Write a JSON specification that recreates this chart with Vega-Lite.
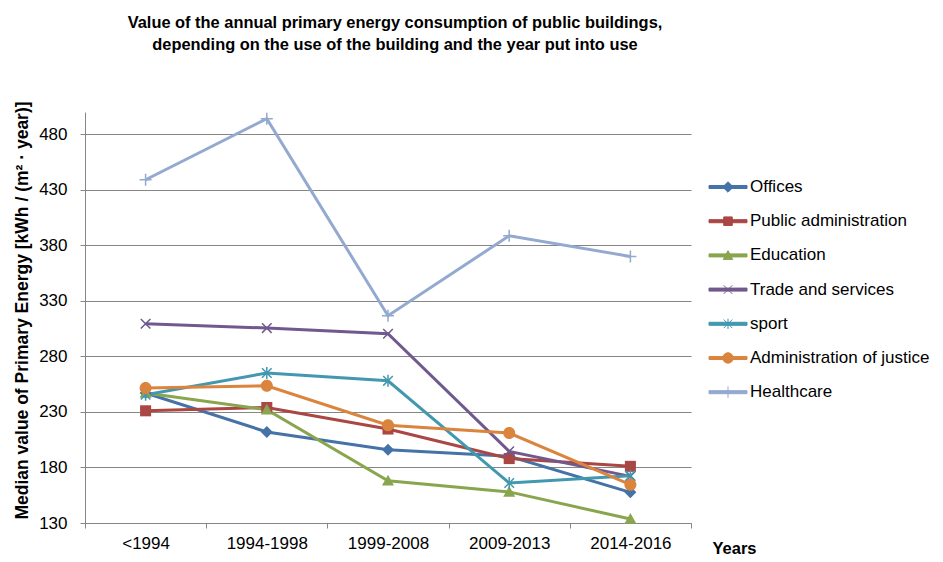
{
  "$schema": "https://vega.github.io/schema/vega-lite/v6.json",
  "width": 606,
  "height": 411,
  "autosize": {"type": "none"},
  "padding": {"left": 85, "top": 112, "right": 252, "bottom": 39},
  "background": "white",
  "title": {
    "text": ["Value of the annual primary energy consumption of public buildings,", "depending on the use of the building and the year put into use"],
    "fontSize": 16.4,
    "fontWeight": "bold",
    "font": "Liberation Sans",
    "color": "black",
    "anchor": "middle",
    "frame": "group",
    "dx": 7,
    "offset": 48,
    "lineHeight": 22
  },
  "config": {
    "font": "Liberation Sans",
    "view": {"stroke": null}
  },
  "data": {
    "values": [
      {"period": "<1994", "series": "Offices", "value": 247},
      {"period": "1994-1998", "series": "Offices", "value": 212},
      {"period": "1999-2008", "series": "Offices", "value": 196},
      {"period": "2009-2013", "series": "Offices", "value": 190},
      {"period": "2014-2016", "series": "Offices", "value": 157.6},
      {"period": "<1994", "series": "Public administration", "value": 231},
      {"period": "1994-1998", "series": "Public administration", "value": 234},
      {"period": "1999-2008", "series": "Public administration", "value": 214.6},
      {"period": "2009-2013", "series": "Public administration", "value": 188},
      {"period": "2014-2016", "series": "Public administration", "value": 181},
      {"period": "<1994", "series": "Education", "value": 247},
      {"period": "1994-1998", "series": "Education", "value": 232},
      {"period": "1999-2008", "series": "Education", "value": 168},
      {"period": "2009-2013", "series": "Education", "value": 158},
      {"period": "2014-2016", "series": "Education", "value": 133.6},
      {"period": "<1994", "series": "Trade and services", "value": 309.4},
      {"period": "1994-1998", "series": "Trade and services", "value": 305.5},
      {"period": "1999-2008", "series": "Trade and services", "value": 300.4},
      {"period": "2009-2013", "series": "Trade and services", "value": 194.5},
      {"period": "2014-2016", "series": "Trade and services", "value": 172},
      {"period": "<1994", "series": "sport", "value": 245.5},
      {"period": "1994-1998", "series": "sport", "value": 265},
      {"period": "1999-2008", "series": "sport", "value": 258},
      {"period": "2009-2013", "series": "sport", "value": 166},
      {"period": "2014-2016", "series": "sport", "value": 172.6},
      {"period": "<1994", "series": "Administration of justice", "value": 251.5},
      {"period": "1994-1998", "series": "Administration of justice", "value": 253.6},
      {"period": "1999-2008", "series": "Administration of justice", "value": 218},
      {"period": "2009-2013", "series": "Administration of justice", "value": 211},
      {"period": "2014-2016", "series": "Administration of justice", "value": 164.5},
      {"period": "<1994", "series": "Healthcare", "value": 439},
      {"period": "1994-1998", "series": "Healthcare", "value": 494},
      {"period": "1999-2008", "series": "Healthcare", "value": 316.6},
      {"period": "2009-2013", "series": "Healthcare", "value": 388.6},
      {"period": "2014-2016", "series": "Healthcare", "value": 370}
    ]
  },
  "encoding": {
    "x": {
      "field": "period",
      "type": "ordinal",
      "sort": ["<1994", "1994-1998", "1999-2008", "2009-2013", "2014-2016"],
      "scale": {"type": "band", "paddingInner": 0, "paddingOuter": 0},
      "bandPosition": 0.5,
      "axis": {
        "title": "Years",
        "titleFontSize": 16.5,
        "titleFontWeight": "bold",
        "titleColor": "black",
        "titleAlign": "left",
        "titleBaseline": "middle",
        "titleAnchor": null,
        "titleX": 627,
        "titleY": 25,
        "labelAngle": 0,
        "labelFontSize": 17,
        "labelColor": "black",
        "labelPadding": 7,
        "tickBand": "extent",
        "tickSize": 5,
        "tickColor": "#868686",
        "domainColor": "#868686",
        "grid": false
      }
    },
    "y": {
      "field": "value",
      "type": "quantitative",
      "scale": {"domain": [130, 500], "nice": false, "zero": false},
      "axis": {
        "title": "Median value of Primary Energy [kWh / (m² · year)]",
        "titleFontSize": 17.5,
        "titleFontWeight": "bold",
        "titleColor": "black",
        "titleAnchor": null,
        "titleAlign": "center",
        "titleBaseline": "middle",
        "titleAngle": -90,
        "titleX": -63,
        "titleY": 198,
        "values": [130, 180, 230, 280, 330, 380, 430, 480],
        "labelFontSize": 17,
        "labelColor": "black",
        "labelPadding": 13,
        "tickSize": 5,
        "tickColor": "#868686",
        "domainColor": "#868686",
        "grid": true,
        "gridColor": "#868686",
        "gridWidth": 1
      }
    },
    "color": {
      "field": "series",
      "type": "nominal",
      "scale": {
        "domain": ["Offices", "Public administration", "Education", "Trade and services", "sport", "Administration of justice", "Healthcare"],
        "range": ["#4572A7", "#AA4643", "#89A54E", "#71588F", "#4198AF", "#DB843D", "#93A9CF"]
      },
      "legend": {
        "title": null,
        "orient": "none",
        "legendX": 633,
        "legendY": 65,
        "padding": 0,
        "symbolSize": 361,
        "labelOffset": 12,
        "rowPadding": 16.2,
        "labelFontSize": 17,
        "labelColor": "black",
        "labelLimit": 300,
        "encode": {
          "symbols": {
            "update": {
              "shape": {"signal": "datum.value === 'Offices' ? 'M-2,-0.16H2V0.16H-2ZM0,-0.55L0.55,0L0,0.55L-0.55,0Z' : datum.value === 'Public administration' ? 'M-2,-0.16H2V0.16H-2ZM-0.45,-0.45H0.45V0.45H-0.45Z' : datum.value === 'Education' ? 'M-2,-0.16H2V0.16H-2ZM0,-0.5L0.5,0.42L-0.5,0.42Z' : datum.value === 'Trade and services' ? 'M-2,-0.16H2V0.16H-2ZM-0.45,-0.45L0.45,0.45M-0.45,0.45L0.45,-0.45' : datum.value === 'sport' ? 'M-2,-0.16H2V0.16H-2ZM-0.45,-0.45L0.45,0.45M-0.45,0.45L0.45,-0.45M0,-0.55L0,0.55' : datum.value === 'Administration of justice' ? 'M-2,-0.16H2V0.16H-2ZM-0.55,0A0.55,0.55 0 1,1 0.55,0A0.55,0.55 0 1,1 -0.55,0Z' : 'M-2,-0.16H2V0.16H-2ZM0,-0.6L0,0.6'"},
              "fill": {"signal": "scale('color', datum.value)"},
              "stroke": {"signal": "scale('color', datum.value)"},
              "strokeWidth": {"value": 1},
              "opacity": {"value": 1},
              "fillOpacity": {"value": 1},
              "strokeOpacity": {"value": 1}
            }
          }
        }
      }
    }
  },
  "layer": [
    {"mark": {"type": "line", "strokeWidth": 3}},
    {
      "transform": [{"filter": "datum.series === 'Offices'"}],
      "mark": {"type": "point", "filled": true, "size": 144, "opacity": 1, "strokeWidth": 0, "shape": "M0,-1L1,0L0,1L-1,0Z"}
    },
    {
      "transform": [{"filter": "datum.series === 'Public administration'"}],
      "mark": {"type": "point", "filled": true, "size": 144, "opacity": 1, "strokeWidth": 0, "shape": "M-0.92,-0.92H0.92V0.92H-0.92Z"}
    },
    {
      "transform": [{"filter": "datum.series === 'Education'"}],
      "mark": {"type": "point", "filled": true, "size": 144, "opacity": 1, "strokeWidth": 0, "shape": "M0,-1L1,0.8L-1,0.8Z"}
    },
    {
      "transform": [{"filter": "datum.series === 'Trade and services'"}],
      "mark": {"type": "point", "filled": false, "size": 144, "opacity": 1, "strokeWidth": 1.5, "shape": "M-0.8,-0.8L0.8,0.8M-0.8,0.8L0.8,-0.8"}
    },
    {
      "transform": [{"filter": "datum.series === 'sport'"}],
      "mark": {"type": "point", "filled": false, "size": 144, "opacity": 1, "strokeWidth": 1.5, "shape": "M-0.8,-0.8L0.8,0.8M-0.8,0.8L0.8,-0.8M0,-1L0,1"}
    },
    {
      "transform": [{"filter": "datum.series === 'Administration of justice'"}],
      "mark": {"type": "point", "filled": true, "size": 144, "opacity": 1, "strokeWidth": 0, "shape": "M-1,0A1,1 0 1,1 1,0A1,1 0 1,1 -1,0Z"}
    },
    {
      "transform": [{"filter": "datum.series === 'Healthcare'"}],
      "mark": {"type": "point", "filled": false, "size": 144, "opacity": 1, "strokeWidth": 1.5, "shape": "M-1,0L1,0M0,-1L0,1"}
    }
  ]
}
